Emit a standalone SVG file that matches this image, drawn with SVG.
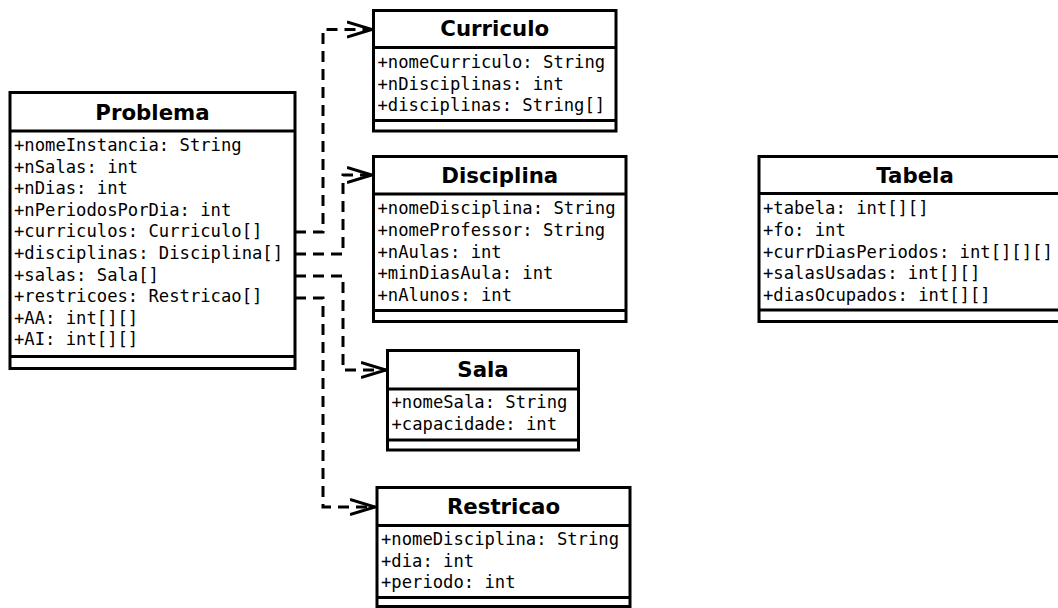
<svg xmlns="http://www.w3.org/2000/svg" width="1058" height="608" viewBox="0 0 1058 608">
<defs>
<style>
.box{fill:#fff;stroke:#000;stroke-width:3}
.sep{stroke:#000;stroke-width:3;fill:none}
.title{font-family:"DejaVu Sans",sans-serif;font-weight:bold;font-size:21.3px;text-anchor:middle;fill:#000}
.attr{font-family:"DejaVu Sans Mono",monospace;font-size:17.2px;fill:#000}
.conn{fill:none;stroke:#000;stroke-width:3;stroke-dasharray:11 7}
</style>
<marker id="open" markerUnits="userSpaceOnUse" markerWidth="30" markerHeight="20" refX="25" refY="8" orient="auto" viewBox="0 0 30 16">
<path d="M0,0.5 L25,8 L0,15.5" fill="none" stroke="#000" stroke-width="3"/>
</marker>
</defs>
<rect width="1058" height="608" fill="#fff"/>

<g id="connectors">
<path class="conn" d="M295,232 H323 V29.5 H372" marker-end="url(#open)"/>
<path class="conn" d="M295,254 H343 V175 H372" marker-end="url(#open)"/>
<path class="conn" d="M295,276 H343 V370 H386" marker-end="url(#open)"/>
<path class="conn" d="M295,298 H323 V507 H375" marker-end="url(#open)"/>
</g>

<g id="Problema">
<rect class="box" x="10" y="92.5" width="285" height="276"/>
<path class="sep" d="M10,131 H295 M10,356.5 H295"/>
<text class="title" x="152.5" y="119.5">Problema</text>
<text class="attr" x="14" y="151">+nomeInstancia: String</text>
<text class="attr" x="14" y="172.6">+nSalas: int</text>
<text class="attr" x="14" y="194.2">+nDias: int</text>
<text class="attr" x="14" y="215.8">+nPeriodosPorDia: int</text>
<text class="attr" x="14" y="237.4">+curriculos: Curriculo[]</text>
<text class="attr" x="14" y="259">+disciplinas: Disciplina[]</text>
<text class="attr" x="14" y="280.6">+salas: Sala[]</text>
<text class="attr" x="14" y="302.2">+restricoes: Restricao[]</text>
<text class="attr" x="14" y="323.8">+AA: int[][]</text>
<text class="attr" x="14" y="345.4">+AI: int[][]</text>
</g>

<g id="Curriculo">
<rect class="box" x="373.5" y="10.5" width="242.5" height="120.5"/>
<path class="sep" d="M373.5,47.5 H616 M373.5,120.5 H616"/>
<text class="title" x="494.75" y="35.5">Curriculo</text>
<text class="attr" x="377.5" y="68">+nomeCurriculo: String</text>
<text class="attr" x="377.5" y="89.6">+nDisciplinas: int</text>
<text class="attr" x="377.5" y="111.2">+disciplinas: String[]</text>
</g>

<g id="Disciplina">
<rect class="box" x="373.5" y="156.5" width="252.5" height="165"/>
<path class="sep" d="M373.5,194 H626 M373.5,310.5 H626"/>
<text class="title" x="499.75" y="183">Disciplina</text>
<text class="attr" x="377.5" y="214.3">+nomeDisciplina: String</text>
<text class="attr" x="377.5" y="235.9">+nomeProfessor: String</text>
<text class="attr" x="377.5" y="257.5">+nAulas: int</text>
<text class="attr" x="377.5" y="279.1">+minDiasAula: int</text>
<text class="attr" x="377.5" y="300.7">+nAlunos: int</text>
</g>

<g id="Sala">
<rect class="box" x="387.5" y="350.5" width="191" height="99.5"/>
<path class="sep" d="M387.5,389 H578.5 M387.5,440 H578.5"/>
<text class="title" x="483" y="377">Sala</text>
<text class="attr" x="391.5" y="408.3">+nomeSala: String</text>
<text class="attr" x="391.5" y="429.9">+capacidade: int</text>
</g>

<g id="Restricao">
<rect class="box" x="377" y="487.5" width="253" height="119"/>
<path class="sep" d="M377,525.5 H630 M377,597.5 H630"/>
<text class="title" x="503.5" y="513.5">Restricao</text>
<text class="attr" x="381" y="545">+nomeDisciplina: String</text>
<text class="attr" x="381" y="566.6">+dia: int</text>
<text class="attr" x="381" y="588.2">+periodo: int</text>
</g>

<g id="Tabela">
<rect class="box" x="759" y="156.5" width="312" height="165"/>
<path class="sep" d="M759,193.5 H1071 M759,310 H1071"/>
<text class="title" x="915" y="182.5">Tabela</text>
<text class="attr" x="763" y="214.3">+tabela: int[][]</text>
<text class="attr" x="763" y="235.9">+fo: int</text>
<text class="attr" x="763" y="257.5">+currDiasPeriodos: int[][][]</text>
<text class="attr" x="763" y="279.1">+salasUsadas: int[][]</text>
<text class="attr" x="763" y="300.7">+diasOcupados: int[][]</text>
</g>
</svg>
